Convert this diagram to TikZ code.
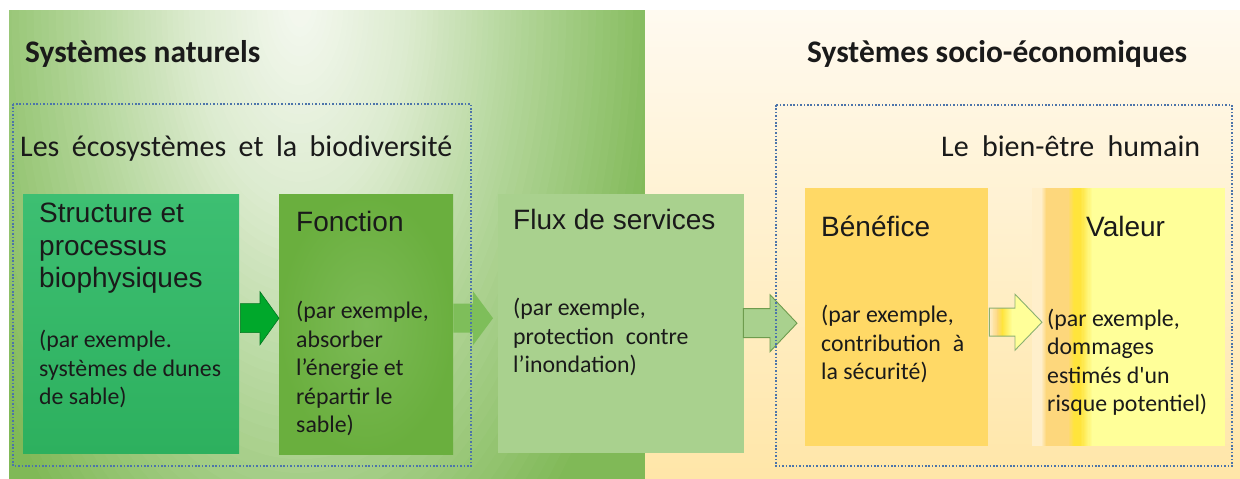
\documentclass[tikz,border=0pt]{standalone}
\usepackage{fontspec}
\setmainfont{Carlito}
\newfontfamily\arialfont{Liberation Sans}
\usetikzlibrary{calc}
\definecolor{natA}{HTML}{F4F8EF}
\definecolor{natB}{HTML}{DCEBCF}
\definecolor{natC}{HTML}{B2D598}
\definecolor{natD}{HTML}{80B957}
\definecolor{socTop}{HTML}{FFFAF0}
\definecolor{socBot}{HTML}{FFE6A8}
\definecolor{dotblue}{HTML}{4C74AA}
\definecolor{structTop}{HTML}{3DBF72}
\definecolor{structBot}{HTML}{2DB05E}
\definecolor{fonctIn}{HTML}{7CBA56}
\definecolor{fonctOut}{HTML}{6AAF3E}
\definecolor{fluxFill}{HTML}{A9D18E}
\definecolor{benefFill}{HTML}{FFD966}
\definecolor{valA}{HTML}{FFEFCB}
\definecolor{valB}{HTML}{FDD77C}
\definecolor{valC}{HTML}{FFE43C}
\definecolor{valD}{HTML}{FFFF99}
\definecolor{arrOne}{HTML}{00A82B}
\definecolor{arrTwo}{HTML}{7EBE5A}
\definecolor{arrEdge}{HTML}{6E9C4E}
\definecolor{inkText}{HTML}{1A1A1A}
% fleche pleine : options, depart, pointe, demi-corps, demi-tete, longueur de tete
\newcommand{\blockarrow}[6]{%
  \path[#1] ($(#2)+(0,#4)$) -- ($(#3)+(-#6,#4)$) -- ($(#3)+(-#6,#5)$) -- (#3)
    -- ($(#3)+(-#6,-#5)$) -- ($(#3)+(-#6,-#4)$) -- ($(#2)+(0,-#4)$) -- cycle;}
% degrade horizontal en bandes : coin bas gauche, hauteur, x0, x1, couleur 1, couleur 2
\newcommand{\hband}[6]{%
  \foreach \k [evaluate=\k as \p using int(10*\k)] in {0,...,9}
    \fill[#6!\p!#5] ($(#1)+({#3+(#4-#3)*\k/10},0)$) rectangle ($(#1)+({#3+(#4-#3)*(\k+1)/10+0.3},#2)$);}
\tikzset{
  panetitle/.style={anchor=base west,inner sep=0pt,text=inkText,font=\bfseries\fontsize{31.4}{36}\selectfont},
  grouptitle/.style={anchor=base west,inner sep=0pt,text=inkText,font=\fontsize{30}{34}\selectfont},
  boxtitle/.style={anchor=base west,inner sep=0pt,align=left,text=inkText,font=\arialfont\fontsize{28}{32.5}\selectfont},
  boxbody/.style={anchor=base west,inner sep=0pt,align=left,text=inkText,font=\fontsize{23.8}{28.5}\selectfont},
  flowbox/.style={anchor=north west,inner sep=0pt},
  groupframe/.style={draw=dotblue,line width=1.6pt,dash pattern=on 1.6pt off 1.8pt}
}
\begin{document}
\begin{tikzpicture}[x=1pt,y=1pt]
\useasboundingbox (0,0) rectangle (1240,479);
\fill[white] (0,0) rectangle (1240,479);
\begin{scope}
  \clip (9,0) rectangle (645,468); % systemes naturels
  \fill[natD] (9,0) rectangle (645,468);
  \foreach \k [evaluate=\k as \p using int(5*\k)] in {0,...,19}
    \fill[natC!\p!natD] (300,475) ellipse [x radius={370*(1-0.02*\k)},y radius={690*(1-0.02*\k)}];
  \foreach \k [evaluate=\k as \p using int(5*\k)] in {0,...,19}
    \fill[natB!\p!natC] (300,475) ellipse [x radius={370*(0.6-0.015*\k)},y radius={690*(0.6-0.015*\k)}];
  \foreach \k [evaluate=\k as \p using int(5*\k)] in {0,...,19}
    \fill[natA!\p!natB] (300,475) ellipse [x radius={370*(0.3-0.014*\k)},y radius={690*(0.3-0.014*\k)}];
\end{scope}
\shade[top color=socTop,bottom color=socBot] (645,0) rectangle (1240,468); % systemes socio-economiques

\node[flowbox,minimum width=216pt,minimum height=259pt,top color=structTop,bottom color=structBot] (struct) at (23,285) {};
\node[flowbox,minimum width=174pt,minimum height=260pt,inner color=fonctIn,outer color=fonctOut] (fonct) at (279,285) {};
\node[flowbox,minimum width=246pt,minimum height=259pt,fill=fluxFill] (flux) at (498,285) {};
\node[flowbox,minimum width=183pt,minimum height=258pt,fill=benefFill] (benef) at (805,291) {};
\node[flowbox,minimum width=193pt,minimum height=258pt,fill=valD] (valeur) at (1032,291) {};
\fill[valA] (valeur.south west) rectangle ($(valeur.north west)+(9,0)$); % bord gauche de Valeur
\hband{valeur.south west}{258}{9}{14}{valA}{valB}
\fill[valB] ($(valeur.south west)+(14,0)$) rectangle ($(valeur.north west)+(36,0)$);
\hband{valeur.south west}{258}{36}{42}{valB}{valC}
\fill[valC] ($(valeur.south west)+(42,0)$) rectangle ($(valeur.north west)+(48,0)$);
\hband{valeur.south west}{258}{48}{60}{valC}{valD}

\node[panetitle] (natT) at (25,416) {Systèmes naturels};
\node[panetitle] (socT) at (807,416) {Systèmes socio-économiques};
\node[grouptitle] (ecoT) at (20,322) {\makebox[432pt][s]{Les écosystèmes et la biodiversité}};
\node[grouptitle] (bienT) at (941,322) {\makebox[259pt][s]{Le bien-être humain}};

\node[boxtitle] (structT) at (39,191) {Structure et\\processus\\biophysiques};
\node[boxbody] (structB) at (39,74) {(par exemple.\\systèmes de dunes\\de sable)};
\node[boxtitle] (fonctT) at (296,247) {Fonction};
\node[boxbody] (fonctB) at (296,46) {(par exemple,\\absorber\\l’énergie et\\répartir le\\sable)};
\node[boxtitle] (fluxT) at (513,249) {Flux de services};
\node[boxbody] (fluxB) at (513,106) {(par exemple,\\protection\enspace contre\\l’inondation)};
\node[boxtitle] (benefT) at (821,242) {Bénéfice};
\node[boxbody] (benefB) at (821,99) {(par exemple,\\contribution\enspace à\\la sécurité)};
\node[boxtitle] (valeurT) at (1086,242) {Valeur};
\node[boxbody] (valeurB) at (1047,67) {(par exemple,\\dommages\\estimés d\textquotesingle un\\risque potentiel)};

\coordinate (a1s) at ($(struct.east)+(1,5.5)$);
\coordinate (a1t) at (fonct.west |- a1s);
\coordinate (a2s) at ($(fonct.east)+(0,6)$);
\coordinate (a2t) at ($(flux.west |- a2s)+(-5,0)$);
\coordinate (a3s) at ($(flux.east)+(-1,0.5)$);
\coordinate (a3t) at ($(benef.west |- a3s)+(-8,0)$);
\coordinate (a4s) at ($(benef.east)+(1,-5)$);
\coordinate (a4t) at ($(valeur.west |- a4s)+(10,0)$);
\coordinate (a4b) at ($(a4s)+(0,-30)$);
\blockarrow{fill=arrOne,draw=arrOne!70!black,line width=0.6pt}{a1s}{a1t}{14.5}{26.5}{19}
\blockarrow{fill=arrTwo}{a2s}{a2t}{14.5}{27}{20}
\blockarrow{fill=fluxFill,draw=arrEdge,line width=0.9pt}{a3s}{a3t}{14.5}{28.5}{27}
\begin{scope}
  \blockarrow{clip}{a4s}{a4t}{14}{28}{27}
  \fill[valD] (a4b) rectangle ($(a4t)+(0,30)$);
  \hband{a4b}{60}{0}{8}{valA}{valB}
  \hband{a4b}{60}{8}{13}{valB}{valC}
  \hband{a4b}{60}{13}{22}{valC}{valD}
\end{scope}
\blockarrow{draw=arrEdge!80,line width=0.9pt}{a4s}{a4t}{14}{28}{27}

\draw[groupframe] (13,375) rectangle (471,13); % cadre pointille gauche
\draw[groupframe] (776,374) rectangle (1232,13); % cadre pointille droit
\end{tikzpicture}
\end{document}
